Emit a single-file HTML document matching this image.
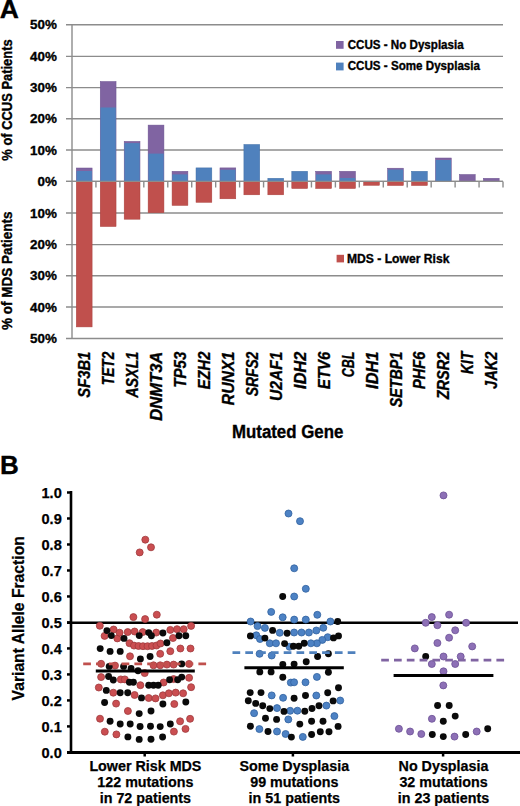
<!DOCTYPE html><html><head><meta charset="utf-8"><style>html,body{margin:0;padding:0;background:#fff;}svg{display:block;}</style></head><body><svg width="520" height="806" viewBox="0 0 520 806">
<rect width="520" height="806" fill="#fff"/>
<line x1="66" y1="24.8" x2="503" y2="24.8" stroke="#8c8c8c" stroke-width="1.4"/>
<line x1="66" y1="56.4" x2="503" y2="56.4" stroke="#8c8c8c" stroke-width="1.4"/>
<line x1="66" y1="87.6" x2="503" y2="87.6" stroke="#8c8c8c" stroke-width="1.4"/>
<line x1="66" y1="118.7" x2="503" y2="118.7" stroke="#8c8c8c" stroke-width="1.4"/>
<line x1="66" y1="150" x2="503" y2="150" stroke="#8c8c8c" stroke-width="1.4"/>
<line x1="66" y1="181.4" x2="503" y2="181.4" stroke="#8c8c8c" stroke-width="1.4"/>
<line x1="66" y1="213" x2="503" y2="213" stroke="#8c8c8c" stroke-width="1.4"/>
<line x1="66" y1="244.6" x2="503" y2="244.6" stroke="#8c8c8c" stroke-width="1.4"/>
<line x1="66" y1="275.8" x2="503" y2="275.8" stroke="#8c8c8c" stroke-width="1.4"/>
<line x1="66" y1="307" x2="503" y2="307" stroke="#8c8c8c" stroke-width="1.4"/>
<line x1="66" y1="338.5" x2="503" y2="338.5" stroke="#8c8c8c" stroke-width="1.4"/>
<text x="56.8" y="29.4" font-family="Liberation Sans, sans-serif" font-weight="bold" stroke="#000" stroke-width="0.35" font-size="13.4" text-anchor="end" fill="#000">50%</text>
<text x="56.8" y="61.0" font-family="Liberation Sans, sans-serif" font-weight="bold" stroke="#000" stroke-width="0.35" font-size="13.4" text-anchor="end" fill="#000">40%</text>
<text x="56.8" y="92.2" font-family="Liberation Sans, sans-serif" font-weight="bold" stroke="#000" stroke-width="0.35" font-size="13.4" text-anchor="end" fill="#000">30%</text>
<text x="56.8" y="123.3" font-family="Liberation Sans, sans-serif" font-weight="bold" stroke="#000" stroke-width="0.35" font-size="13.4" text-anchor="end" fill="#000">20%</text>
<text x="56.8" y="154.6" font-family="Liberation Sans, sans-serif" font-weight="bold" stroke="#000" stroke-width="0.35" font-size="13.4" text-anchor="end" fill="#000">10%</text>
<text x="56.8" y="186.0" font-family="Liberation Sans, sans-serif" font-weight="bold" stroke="#000" stroke-width="0.35" font-size="13.4" text-anchor="end" fill="#000">0%</text>
<text x="56.8" y="217.6" font-family="Liberation Sans, sans-serif" font-weight="bold" stroke="#000" stroke-width="0.35" font-size="13.4" text-anchor="end" fill="#000">10%</text>
<text x="56.8" y="249.2" font-family="Liberation Sans, sans-serif" font-weight="bold" stroke="#000" stroke-width="0.35" font-size="13.4" text-anchor="end" fill="#000">20%</text>
<text x="56.8" y="280.4" font-family="Liberation Sans, sans-serif" font-weight="bold" stroke="#000" stroke-width="0.35" font-size="13.4" text-anchor="end" fill="#000">30%</text>
<text x="56.8" y="311.6" font-family="Liberation Sans, sans-serif" font-weight="bold" stroke="#000" stroke-width="0.35" font-size="13.4" text-anchor="end" fill="#000">40%</text>
<text x="56.8" y="343.1" font-family="Liberation Sans, sans-serif" font-weight="bold" stroke="#000" stroke-width="0.35" font-size="13.4" text-anchor="end" fill="#000">50%</text>
<rect x="76.30" y="168" width="15.8" height="13.40" fill="#8064a2" stroke="#6c5290" stroke-width="0.5"/>
<rect x="76.55" y="171" width="15.3" height="10.15" fill="#4f81bd"/>
<rect x="76.30" y="181.4" width="15.8" height="145.50" fill="#c0504d" stroke="#a9403d" stroke-width="0.5"/>
<rect x="100.24" y="81.5" width="15.8" height="99.90" fill="#8064a2" stroke="#6c5290" stroke-width="0.5"/>
<rect x="100.49" y="107.5" width="15.3" height="73.65" fill="#4f81bd"/>
<rect x="100.24" y="181.4" width="15.8" height="45.10" fill="#c0504d" stroke="#a9403d" stroke-width="0.5"/>
<rect x="124.19" y="141.4" width="15.8" height="40.00" fill="#8064a2" stroke="#6c5290" stroke-width="0.5"/>
<rect x="124.44" y="143.1" width="15.3" height="38.05" fill="#4f81bd"/>
<rect x="124.19" y="181.4" width="15.8" height="37.80" fill="#c0504d" stroke="#a9403d" stroke-width="0.5"/>
<rect x="148.13" y="125.1" width="15.8" height="56.30" fill="#8064a2" stroke="#6c5290" stroke-width="0.5"/>
<rect x="148.38" y="153.6" width="15.3" height="27.55" fill="#4f81bd"/>
<rect x="148.13" y="181.4" width="15.8" height="31.30" fill="#c0504d" stroke="#a9403d" stroke-width="0.5"/>
<rect x="172.08" y="171.3" width="15.8" height="10.10" fill="#8064a2" stroke="#6c5290" stroke-width="0.5"/>
<rect x="172.33" y="174.4" width="15.3" height="6.75" fill="#4f81bd"/>
<rect x="172.08" y="181.4" width="15.8" height="24.00" fill="#c0504d" stroke="#a9403d" stroke-width="0.5"/>
<rect x="196.02" y="167.9" width="15.8" height="13.50" fill="#4f81bd" stroke="#416fa6" stroke-width="0.5"/>
<rect x="196.02" y="181.4" width="15.8" height="20.90" fill="#c0504d" stroke="#a9403d" stroke-width="0.5"/>
<rect x="219.97" y="167.9" width="15.8" height="13.50" fill="#8064a2" stroke="#6c5290" stroke-width="0.5"/>
<rect x="220.22" y="169.8" width="15.3" height="11.35" fill="#4f81bd"/>
<rect x="219.97" y="181.4" width="15.8" height="17.40" fill="#c0504d" stroke="#a9403d" stroke-width="0.5"/>
<rect x="243.91" y="144.5" width="15.8" height="36.90" fill="#4f81bd" stroke="#416fa6" stroke-width="0.5"/>
<rect x="243.91" y="181.4" width="15.8" height="13.40" fill="#c0504d" stroke="#a9403d" stroke-width="0.5"/>
<rect x="267.86" y="178.3" width="15.8" height="3.10" fill="#4f81bd" stroke="#416fa6" stroke-width="0.5"/>
<rect x="267.86" y="181.4" width="15.8" height="13.40" fill="#c0504d" stroke="#a9403d" stroke-width="0.5"/>
<rect x="291.80" y="171.3" width="15.8" height="10.10" fill="#4f81bd" stroke="#416fa6" stroke-width="0.5"/>
<rect x="291.80" y="181.4" width="15.8" height="7.10" fill="#c0504d" stroke="#a9403d" stroke-width="0.5"/>
<rect x="315.74" y="171.3" width="15.8" height="10.10" fill="#8064a2" stroke="#6c5290" stroke-width="0.5"/>
<rect x="315.99" y="174.4" width="15.3" height="6.75" fill="#4f81bd"/>
<rect x="315.74" y="181.4" width="15.8" height="7.10" fill="#c0504d" stroke="#a9403d" stroke-width="0.5"/>
<rect x="339.69" y="171.3" width="15.8" height="10.10" fill="#8064a2" stroke="#6c5290" stroke-width="0.5"/>
<rect x="339.94" y="178" width="15.3" height="3.15" fill="#4f81bd"/>
<rect x="339.69" y="181.4" width="15.8" height="7.10" fill="#c0504d" stroke="#a9403d" stroke-width="0.5"/>
<rect x="363.63" y="181.4" width="15.8" height="3.90" fill="#c0504d" stroke="#a9403d" stroke-width="0.5"/>
<rect x="387.58" y="168.2" width="15.8" height="13.20" fill="#8064a2" stroke="#6c5290" stroke-width="0.5"/>
<rect x="387.83" y="169.6" width="15.3" height="11.55" fill="#4f81bd"/>
<rect x="387.58" y="181.4" width="15.8" height="4.10" fill="#c0504d" stroke="#a9403d" stroke-width="0.5"/>
<rect x="411.52" y="171.3" width="15.8" height="10.10" fill="#4f81bd" stroke="#416fa6" stroke-width="0.5"/>
<rect x="411.52" y="181.4" width="15.8" height="4.10" fill="#c0504d" stroke="#a9403d" stroke-width="0.5"/>
<rect x="435.47" y="158" width="15.8" height="23.40" fill="#8064a2" stroke="#6c5290" stroke-width="0.5"/>
<rect x="435.72" y="160" width="15.3" height="21.15" fill="#4f81bd"/>
<rect x="459.41" y="174.5" width="15.8" height="6.90" fill="#8064a2" stroke="#6c5290" stroke-width="0.5"/>
<rect x="483.36" y="178.3" width="15.8" height="3.10" fill="#8064a2" stroke="#6c5290" stroke-width="0.5"/>
<line x1="72" y1="24.6" x2="72" y2="338.5" stroke="#8c8c8c" stroke-width="1.4"/>
<line x1="66" y1="181.4" x2="503" y2="181.4" stroke="#8c8c8c" stroke-width="1.4"/>
<line x1="95.94" y1="181.4" x2="95.94" y2="187.5" stroke="#8c8c8c" stroke-width="1.4"/>
<line x1="119.89" y1="181.4" x2="119.89" y2="187.5" stroke="#8c8c8c" stroke-width="1.4"/>
<line x1="143.83" y1="181.4" x2="143.83" y2="187.5" stroke="#8c8c8c" stroke-width="1.4"/>
<line x1="167.78" y1="181.4" x2="167.78" y2="187.5" stroke="#8c8c8c" stroke-width="1.4"/>
<line x1="191.72" y1="181.4" x2="191.72" y2="187.5" stroke="#8c8c8c" stroke-width="1.4"/>
<line x1="215.67" y1="181.4" x2="215.67" y2="187.5" stroke="#8c8c8c" stroke-width="1.4"/>
<line x1="239.61" y1="181.4" x2="239.61" y2="187.5" stroke="#8c8c8c" stroke-width="1.4"/>
<line x1="263.56" y1="181.4" x2="263.56" y2="187.5" stroke="#8c8c8c" stroke-width="1.4"/>
<line x1="287.50" y1="181.4" x2="287.50" y2="187.5" stroke="#8c8c8c" stroke-width="1.4"/>
<line x1="311.44" y1="181.4" x2="311.44" y2="187.5" stroke="#8c8c8c" stroke-width="1.4"/>
<line x1="335.39" y1="181.4" x2="335.39" y2="187.5" stroke="#8c8c8c" stroke-width="1.4"/>
<line x1="359.33" y1="181.4" x2="359.33" y2="187.5" stroke="#8c8c8c" stroke-width="1.4"/>
<line x1="383.28" y1="181.4" x2="383.28" y2="187.5" stroke="#8c8c8c" stroke-width="1.4"/>
<line x1="407.22" y1="181.4" x2="407.22" y2="187.5" stroke="#8c8c8c" stroke-width="1.4"/>
<line x1="431.17" y1="181.4" x2="431.17" y2="187.5" stroke="#8c8c8c" stroke-width="1.4"/>
<line x1="455.11" y1="181.4" x2="455.11" y2="187.5" stroke="#8c8c8c" stroke-width="1.4"/>
<line x1="479.06" y1="181.4" x2="479.06" y2="187.5" stroke="#8c8c8c" stroke-width="1.4"/>
<line x1="503.00" y1="181.4" x2="503.00" y2="187.5" stroke="#8c8c8c" stroke-width="1.4"/>
<text transform="translate(90.27,351.7) rotate(-90)" font-family="Liberation Sans, sans-serif" font-weight="bold" stroke="#000" stroke-width="0.35" font-style="italic" font-size="16.5" text-anchor="end" textLength="46" lengthAdjust="spacingAndGlyphs">SF3B1</text>
<text transform="translate(114.22,351.7) rotate(-90)" font-family="Liberation Sans, sans-serif" font-weight="bold" stroke="#000" stroke-width="0.35" font-style="italic" font-size="16.5" text-anchor="end" textLength="33.5" lengthAdjust="spacingAndGlyphs">TET2</text>
<text transform="translate(138.16,351.7) rotate(-90)" font-family="Liberation Sans, sans-serif" font-weight="bold" stroke="#000" stroke-width="0.35" font-style="italic" font-size="16.5" text-anchor="end" textLength="46" lengthAdjust="spacingAndGlyphs">ASXL1</text>
<text transform="translate(162.11,351.7) rotate(-90)" font-family="Liberation Sans, sans-serif" font-weight="bold" stroke="#000" stroke-width="0.35" font-style="italic" font-size="16.5" text-anchor="end" textLength="69" lengthAdjust="spacingAndGlyphs">DNMT3A</text>
<text transform="translate(186.05,351.7) rotate(-90)" font-family="Liberation Sans, sans-serif" font-weight="bold" stroke="#000" stroke-width="0.35" font-style="italic" font-size="16.5" text-anchor="end" textLength="36" lengthAdjust="spacingAndGlyphs">TP53</text>
<text transform="translate(209.99,351.7) rotate(-90)" font-family="Liberation Sans, sans-serif" font-weight="bold" stroke="#000" stroke-width="0.35" font-style="italic" font-size="16.5" text-anchor="end" textLength="37.5" lengthAdjust="spacingAndGlyphs">EZH2</text>
<text transform="translate(233.94,351.7) rotate(-90)" font-family="Liberation Sans, sans-serif" font-weight="bold" stroke="#000" stroke-width="0.35" font-style="italic" font-size="16.5" text-anchor="end" textLength="53.5" lengthAdjust="spacingAndGlyphs">RUNX1</text>
<text transform="translate(257.88,351.7) rotate(-90)" font-family="Liberation Sans, sans-serif" font-weight="bold" stroke="#000" stroke-width="0.35" font-style="italic" font-size="16.5" text-anchor="end" textLength="44.6" lengthAdjust="spacingAndGlyphs">SRFS2</text>
<text transform="translate(281.83,351.7) rotate(-90)" font-family="Liberation Sans, sans-serif" font-weight="bold" stroke="#000" stroke-width="0.35" font-style="italic" font-size="16.5" text-anchor="end" textLength="49.3" lengthAdjust="spacingAndGlyphs">U2AF1</text>
<text transform="translate(305.77,351.7) rotate(-90)" font-family="Liberation Sans, sans-serif" font-weight="bold" stroke="#000" stroke-width="0.35" font-style="italic" font-size="16.5" text-anchor="end" textLength="37.2" lengthAdjust="spacingAndGlyphs">IDH2</text>
<text transform="translate(329.72,351.7) rotate(-90)" font-family="Liberation Sans, sans-serif" font-weight="bold" stroke="#000" stroke-width="0.35" font-style="italic" font-size="16.5" text-anchor="end" textLength="37.2" lengthAdjust="spacingAndGlyphs">ETV6</text>
<text transform="translate(353.66,351.7) rotate(-90)" font-family="Liberation Sans, sans-serif" font-weight="bold" stroke="#000" stroke-width="0.35" font-style="italic" font-size="16.5" text-anchor="end" textLength="25.6" lengthAdjust="spacingAndGlyphs">CBL</text>
<text transform="translate(377.61,351.7) rotate(-90)" font-family="Liberation Sans, sans-serif" font-weight="bold" stroke="#000" stroke-width="0.35" font-style="italic" font-size="16.5" text-anchor="end" textLength="37.2" lengthAdjust="spacingAndGlyphs">IDH1</text>
<text transform="translate(401.55,351.7) rotate(-90)" font-family="Liberation Sans, sans-serif" font-weight="bold" stroke="#000" stroke-width="0.35" font-style="italic" font-size="16.5" text-anchor="end" textLength="55.6" lengthAdjust="spacingAndGlyphs">SETBP1</text>
<text transform="translate(425.49,351.7) rotate(-90)" font-family="Liberation Sans, sans-serif" font-weight="bold" stroke="#000" stroke-width="0.35" font-style="italic" font-size="16.5" text-anchor="end" textLength="37.2" lengthAdjust="spacingAndGlyphs">PHF6</text>
<text transform="translate(449.44,351.7) rotate(-90)" font-family="Liberation Sans, sans-serif" font-weight="bold" stroke="#000" stroke-width="0.35" font-style="italic" font-size="16.5" text-anchor="end" textLength="47.6" lengthAdjust="spacingAndGlyphs">ZRSR2</text>
<text transform="translate(473.38,351.7) rotate(-90)" font-family="Liberation Sans, sans-serif" font-weight="bold" stroke="#000" stroke-width="0.35" font-style="italic" font-size="16.5" text-anchor="end" textLength="22.2" lengthAdjust="spacingAndGlyphs">KIT</text>
<text transform="translate(497.33,351.7) rotate(-90)" font-family="Liberation Sans, sans-serif" font-weight="bold" stroke="#000" stroke-width="0.35" font-style="italic" font-size="16.5" text-anchor="end" textLength="37.2" lengthAdjust="spacingAndGlyphs">JAK2</text>
<text x="232" y="437.9" font-family="Liberation Sans, sans-serif" font-weight="bold" stroke="#000" stroke-width="0.35" font-size="17.5" textLength="111.3" lengthAdjust="spacingAndGlyphs">Mutated Gene</text>
<text transform="translate(11.8,100) rotate(-90)" font-family="Liberation Sans, sans-serif" font-weight="bold" stroke="#000" stroke-width="0.35" font-size="14" text-anchor="middle" textLength="121.3" lengthAdjust="spacingAndGlyphs">% of CCUS Patients</text>
<text transform="translate(11.8,270.8) rotate(-90)" font-family="Liberation Sans, sans-serif" font-weight="bold" stroke="#000" stroke-width="0.35" font-size="14" text-anchor="middle" textLength="118.4" lengthAdjust="spacingAndGlyphs">% of MDS Patients</text>
<rect x="336" y="41" width="7.6" height="7.8" fill="#8064a2"/>
<text x="347.7" y="49.2" font-family="Liberation Sans, sans-serif" font-weight="bold" stroke="#000" stroke-width="0.35" font-size="12.2" textLength="116" lengthAdjust="spacingAndGlyphs">CCUS - No Dysplasia</text>
<rect x="336" y="62.6" width="7.6" height="7.8" fill="#4f81bd"/>
<text x="347.7" y="70.4" font-family="Liberation Sans, sans-serif" font-weight="bold" stroke="#000" stroke-width="0.35" font-size="12.2" textLength="132.3" lengthAdjust="spacingAndGlyphs">CCUS - Some Dysplasia</text>
<rect x="336.6" y="254.8" width="7.4" height="7.6" fill="#c0504d"/>
<text x="347" y="262.9" font-family="Liberation Sans, sans-serif" font-weight="bold" stroke="#000" stroke-width="0.35" font-size="12.2" textLength="102.4" lengthAdjust="spacingAndGlyphs">MDS - Lower Risk</text>
<text x="-0.3" y="17.6" font-family="Liberation Sans, sans-serif" font-weight="bold" stroke="#000" stroke-width="0.35" font-size="26.5">A</text>
<text x="0" y="473.8" font-family="Liberation Sans, sans-serif" font-weight="bold" stroke="#000" stroke-width="0.35" font-size="26">B</text>
<line x1="71" y1="491" x2="71" y2="754" stroke="#000" stroke-width="2.6"/>
<line x1="67" y1="752.4" x2="520" y2="752.4" stroke="#000" stroke-width="3"/>
<line x1="67" y1="752.40" x2="71" y2="752.40" stroke="#000" stroke-width="2.5"/>
<text x="61.8" y="757.70" font-family="Liberation Sans, sans-serif" font-weight="bold" stroke="#000" stroke-width="0.25" font-size="14.6" text-anchor="end">0.0</text>
<line x1="67" y1="726.41" x2="71" y2="726.41" stroke="#000" stroke-width="2.5"/>
<text x="61.8" y="731.71" font-family="Liberation Sans, sans-serif" font-weight="bold" stroke="#000" stroke-width="0.25" font-size="14.6" text-anchor="end">0.1</text>
<line x1="67" y1="700.42" x2="71" y2="700.42" stroke="#000" stroke-width="2.5"/>
<text x="61.8" y="705.72" font-family="Liberation Sans, sans-serif" font-weight="bold" stroke="#000" stroke-width="0.25" font-size="14.6" text-anchor="end">0.2</text>
<line x1="67" y1="674.43" x2="71" y2="674.43" stroke="#000" stroke-width="2.5"/>
<text x="61.8" y="679.73" font-family="Liberation Sans, sans-serif" font-weight="bold" stroke="#000" stroke-width="0.25" font-size="14.6" text-anchor="end">0.3</text>
<line x1="67" y1="648.44" x2="71" y2="648.44" stroke="#000" stroke-width="2.5"/>
<text x="61.8" y="653.74" font-family="Liberation Sans, sans-serif" font-weight="bold" stroke="#000" stroke-width="0.25" font-size="14.6" text-anchor="end">0.4</text>
<line x1="67" y1="622.45" x2="71" y2="622.45" stroke="#000" stroke-width="2.5"/>
<text x="61.8" y="627.75" font-family="Liberation Sans, sans-serif" font-weight="bold" stroke="#000" stroke-width="0.25" font-size="14.6" text-anchor="end">0.5</text>
<line x1="67" y1="596.46" x2="71" y2="596.46" stroke="#000" stroke-width="2.5"/>
<text x="61.8" y="601.76" font-family="Liberation Sans, sans-serif" font-weight="bold" stroke="#000" stroke-width="0.25" font-size="14.6" text-anchor="end">0.6</text>
<line x1="67" y1="570.47" x2="71" y2="570.47" stroke="#000" stroke-width="2.5"/>
<text x="61.8" y="575.77" font-family="Liberation Sans, sans-serif" font-weight="bold" stroke="#000" stroke-width="0.25" font-size="14.6" text-anchor="end">0.7</text>
<line x1="67" y1="544.48" x2="71" y2="544.48" stroke="#000" stroke-width="2.5"/>
<text x="61.8" y="549.78" font-family="Liberation Sans, sans-serif" font-weight="bold" stroke="#000" stroke-width="0.25" font-size="14.6" text-anchor="end">0.8</text>
<line x1="67" y1="518.49" x2="71" y2="518.49" stroke="#000" stroke-width="2.5"/>
<text x="61.8" y="523.79" font-family="Liberation Sans, sans-serif" font-weight="bold" stroke="#000" stroke-width="0.25" font-size="14.6" text-anchor="end">0.9</text>
<line x1="67" y1="492.50" x2="71" y2="492.50" stroke="#000" stroke-width="2.5"/>
<text x="61.8" y="497.80" font-family="Liberation Sans, sans-serif" font-weight="bold" stroke="#000" stroke-width="0.25" font-size="14.6" text-anchor="end">1.0</text>
<line x1="144.7" y1="752.4" x2="144.7" y2="756.5" stroke="#000" stroke-width="2.5"/>
<line x1="292.9" y1="752.4" x2="292.9" y2="756.5" stroke="#000" stroke-width="2.5"/>
<line x1="443.1" y1="752.4" x2="443.1" y2="756.5" stroke="#000" stroke-width="2.5"/>
<text x="145.4" y="770.7" font-family="Liberation Sans, sans-serif" font-weight="bold" stroke="#000" stroke-width="0.25" font-size="14.3" text-anchor="middle">Lower Risk MDS</text>
<text x="145.4" y="787" font-family="Liberation Sans, sans-serif" font-weight="bold" stroke="#000" stroke-width="0.25" font-size="14.3" text-anchor="middle">122 mutations</text>
<text x="145.4" y="803.4" font-family="Liberation Sans, sans-serif" font-weight="bold" stroke="#000" stroke-width="0.25" font-size="14.3" text-anchor="middle">in 72 patients</text>
<text x="294.3" y="770.7" font-family="Liberation Sans, sans-serif" font-weight="bold" stroke="#000" stroke-width="0.25" font-size="14.3" text-anchor="middle">Some Dysplasia</text>
<text x="294.3" y="787" font-family="Liberation Sans, sans-serif" font-weight="bold" stroke="#000" stroke-width="0.25" font-size="14.3" text-anchor="middle">99 mutations</text>
<text x="294.3" y="803.4" font-family="Liberation Sans, sans-serif" font-weight="bold" stroke="#000" stroke-width="0.25" font-size="14.3" text-anchor="middle">in 51 patients</text>
<text x="443.5" y="770.7" font-family="Liberation Sans, sans-serif" font-weight="bold" stroke="#000" stroke-width="0.25" font-size="14.3" text-anchor="middle">No Dysplasia</text>
<text x="443.5" y="787" font-family="Liberation Sans, sans-serif" font-weight="bold" stroke="#000" stroke-width="0.25" font-size="14.3" text-anchor="middle">32 mutations</text>
<text x="443.5" y="803.4" font-family="Liberation Sans, sans-serif" font-weight="bold" stroke="#000" stroke-width="0.25" font-size="14.3" text-anchor="middle">in 23 patients</text>
<text transform="translate(24.2,618.3) rotate(-90)" font-family="Liberation Sans, sans-serif" font-weight="bold" stroke="#000" stroke-width="0.25" font-size="15.7" text-anchor="middle">Variant Allele Fraction</text>
<line x1="67" y1="622.75" x2="518" y2="622.75" stroke="#000" stroke-width="2.7"/>
<circle cx="145.3" cy="539.7" r="3.5" fill="#ca4e51" stroke="#a03b3e" stroke-width="0.8"/>
<circle cx="151.0" cy="547.3" r="3.5" fill="#ca4e51" stroke="#a03b3e" stroke-width="0.8"/>
<circle cx="139.7" cy="552.4" r="3.5" fill="#ca4e51" stroke="#a03b3e" stroke-width="0.8"/>
<circle cx="133.4" cy="617.1" r="3.5" fill="#ca4e51" stroke="#a03b3e" stroke-width="0.8"/>
<circle cx="145.1" cy="619.1" r="3.5" fill="#ca4e51" stroke="#a03b3e" stroke-width="0.8"/>
<circle cx="156.8" cy="614.7" r="3.5" fill="#ca4e51" stroke="#a03b3e" stroke-width="0.8"/>
<circle cx="99.8" cy="625.8" r="3.5" fill="#ca4e51" stroke="#a03b3e" stroke-width="0.8"/>
<circle cx="113.6" cy="629.5" r="3.5" fill="#ca4e51" stroke="#a03b3e" stroke-width="0.8"/>
<circle cx="104.6" cy="635.9" r="3.5" fill="#ca4e51" stroke="#a03b3e" stroke-width="0.8"/>
<circle cx="117.3" cy="638.4" r="3.5" fill="#ca4e51" stroke="#a03b3e" stroke-width="0.8"/>
<circle cx="119.6" cy="632.7" r="3.5" fill="#ca4e51" stroke="#a03b3e" stroke-width="0.8"/>
<circle cx="127.7" cy="632.1" r="3.5" fill="#ca4e51" stroke="#a03b3e" stroke-width="0.8"/>
<circle cx="134.6" cy="631.5" r="3.5" fill="#ca4e51" stroke="#a03b3e" stroke-width="0.8"/>
<circle cx="142.7" cy="632.1" r="3.5" fill="#ca4e51" stroke="#a03b3e" stroke-width="0.8"/>
<circle cx="191.1" cy="625.9" r="3.5" fill="#ca4e51" stroke="#a03b3e" stroke-width="0.8"/>
<circle cx="156.2" cy="632.6" r="3.5" fill="#ca4e51" stroke="#a03b3e" stroke-width="0.8"/>
<circle cx="170.3" cy="629.9" r="3.5" fill="#ca4e51" stroke="#a03b3e" stroke-width="0.8"/>
<circle cx="177.0" cy="629.2" r="3.5" fill="#ca4e51" stroke="#a03b3e" stroke-width="0.8"/>
<circle cx="183.7" cy="629.2" r="3.5" fill="#ca4e51" stroke="#a03b3e" stroke-width="0.8"/>
<circle cx="173.0" cy="638.0" r="3.5" fill="#ca4e51" stroke="#a03b3e" stroke-width="0.8"/>
<circle cx="129.5" cy="643.2" r="3.5" fill="#ca4e51" stroke="#a03b3e" stroke-width="0.8"/>
<circle cx="134.0" cy="645.6" r="3.5" fill="#ca4e51" stroke="#a03b3e" stroke-width="0.8"/>
<circle cx="138.5" cy="646.0" r="3.5" fill="#ca4e51" stroke="#a03b3e" stroke-width="0.8"/>
<circle cx="143.0" cy="646.2" r="3.5" fill="#ca4e51" stroke="#a03b3e" stroke-width="0.8"/>
<circle cx="147.5" cy="646.2" r="3.5" fill="#ca4e51" stroke="#a03b3e" stroke-width="0.8"/>
<circle cx="152.0" cy="646.0" r="3.5" fill="#ca4e51" stroke="#a03b3e" stroke-width="0.8"/>
<circle cx="156.5" cy="645.5" r="3.5" fill="#ca4e51" stroke="#a03b3e" stroke-width="0.8"/>
<circle cx="160.5" cy="643.5" r="3.5" fill="#ca4e51" stroke="#a03b3e" stroke-width="0.8"/>
<circle cx="130.0" cy="656.3" r="3.5" fill="#ca4e51" stroke="#a03b3e" stroke-width="0.8"/>
<circle cx="101.1" cy="663.8" r="3.5" fill="#ca4e51" stroke="#a03b3e" stroke-width="0.8"/>
<circle cx="115.0" cy="665.6" r="3.5" fill="#ca4e51" stroke="#a03b3e" stroke-width="0.8"/>
<circle cx="170.3" cy="651.2" r="3.5" fill="#ca4e51" stroke="#a03b3e" stroke-width="0.8"/>
<circle cx="180.4" cy="648.5" r="3.5" fill="#ca4e51" stroke="#a03b3e" stroke-width="0.8"/>
<circle cx="190.5" cy="648.5" r="3.5" fill="#ca4e51" stroke="#a03b3e" stroke-width="0.8"/>
<circle cx="160.2" cy="653.8" r="3.5" fill="#ca4e51" stroke="#a03b3e" stroke-width="0.8"/>
<circle cx="153.5" cy="665.3" r="3.5" fill="#ca4e51" stroke="#a03b3e" stroke-width="0.8"/>
<circle cx="160.2" cy="665.3" r="3.5" fill="#ca4e51" stroke="#a03b3e" stroke-width="0.8"/>
<circle cx="166.9" cy="664.6" r="3.5" fill="#ca4e51" stroke="#a03b3e" stroke-width="0.8"/>
<circle cx="173.6" cy="664.6" r="3.5" fill="#ca4e51" stroke="#a03b3e" stroke-width="0.8"/>
<circle cx="189.1" cy="663.9" r="3.5" fill="#ca4e51" stroke="#a03b3e" stroke-width="0.8"/>
<circle cx="101.1" cy="677.1" r="3.5" fill="#ca4e51" stroke="#a03b3e" stroke-width="0.8"/>
<circle cx="120.8" cy="679.4" r="3.5" fill="#ca4e51" stroke="#a03b3e" stroke-width="0.8"/>
<circle cx="124.8" cy="679.4" r="3.5" fill="#ca4e51" stroke="#a03b3e" stroke-width="0.8"/>
<circle cx="140.4" cy="685.2" r="3.5" fill="#ca4e51" stroke="#a03b3e" stroke-width="0.8"/>
<circle cx="98.8" cy="687.5" r="3.5" fill="#ca4e51" stroke="#a03b3e" stroke-width="0.8"/>
<circle cx="113.3" cy="692.7" r="3.5" fill="#ca4e51" stroke="#a03b3e" stroke-width="0.8"/>
<circle cx="134.6" cy="695.0" r="3.5" fill="#ca4e51" stroke="#a03b3e" stroke-width="0.8"/>
<circle cx="116.1" cy="703.6" r="3.5" fill="#ca4e51" stroke="#a03b3e" stroke-width="0.8"/>
<circle cx="144.7" cy="673.1" r="3.5" fill="#ca4e51" stroke="#a03b3e" stroke-width="0.8"/>
<circle cx="189.1" cy="677.8" r="3.5" fill="#ca4e51" stroke="#a03b3e" stroke-width="0.8"/>
<circle cx="173.6" cy="679.1" r="3.5" fill="#ca4e51" stroke="#a03b3e" stroke-width="0.8"/>
<circle cx="163.6" cy="682.5" r="3.5" fill="#ca4e51" stroke="#a03b3e" stroke-width="0.8"/>
<circle cx="191.1" cy="687.2" r="3.5" fill="#ca4e51" stroke="#a03b3e" stroke-width="0.8"/>
<circle cx="162.9" cy="695.3" r="3.5" fill="#ca4e51" stroke="#a03b3e" stroke-width="0.8"/>
<circle cx="168.9" cy="693.3" r="3.5" fill="#ca4e51" stroke="#a03b3e" stroke-width="0.8"/>
<circle cx="175.7" cy="692.6" r="3.5" fill="#ca4e51" stroke="#a03b3e" stroke-width="0.8"/>
<circle cx="183.1" cy="693.3" r="3.5" fill="#ca4e51" stroke="#a03b3e" stroke-width="0.8"/>
<circle cx="148.7" cy="698.0" r="3.5" fill="#ca4e51" stroke="#a03b3e" stroke-width="0.8"/>
<circle cx="155.5" cy="698.4" r="3.5" fill="#ca4e51" stroke="#a03b3e" stroke-width="0.8"/>
<circle cx="174.3" cy="704.0" r="3.5" fill="#ca4e51" stroke="#a03b3e" stroke-width="0.8"/>
<circle cx="127.9" cy="711.0" r="3.5" fill="#ca4e51" stroke="#a03b3e" stroke-width="0.8"/>
<circle cx="100.0" cy="718.7" r="3.5" fill="#ca4e51" stroke="#a03b3e" stroke-width="0.8"/>
<circle cx="104.8" cy="731.7" r="3.5" fill="#ca4e51" stroke="#a03b3e" stroke-width="0.8"/>
<circle cx="116.4" cy="734.4" r="3.5" fill="#ca4e51" stroke="#a03b3e" stroke-width="0.8"/>
<circle cx="180.1" cy="721.3" r="3.5" fill="#ca4e51" stroke="#a03b3e" stroke-width="0.8"/>
<circle cx="190.1" cy="718.8" r="3.5" fill="#ca4e51" stroke="#a03b3e" stroke-width="0.8"/>
<circle cx="173.9" cy="731.6" r="3.5" fill="#ca4e51" stroke="#a03b3e" stroke-width="0.8"/>
<circle cx="185.5" cy="728.9" r="3.5" fill="#ca4e51" stroke="#a03b3e" stroke-width="0.8"/>
<circle cx="288.5" cy="513.5" r="3.5" fill="#4d82c4" stroke="#31629f" stroke-width="0.8"/>
<circle cx="300.0" cy="521.2" r="3.5" fill="#4d82c4" stroke="#31629f" stroke-width="0.8"/>
<circle cx="294.2" cy="568.3" r="3.5" fill="#4d82c4" stroke="#31629f" stroke-width="0.8"/>
<circle cx="305.8" cy="588.8" r="3.5" fill="#4d82c4" stroke="#31629f" stroke-width="0.8"/>
<circle cx="294.2" cy="596.5" r="3.5" fill="#4d82c4" stroke="#31629f" stroke-width="0.8"/>
<circle cx="271.2" cy="611.9" r="3.5" fill="#4d82c4" stroke="#31629f" stroke-width="0.8"/>
<circle cx="282.7" cy="617.3" r="3.5" fill="#4d82c4" stroke="#31629f" stroke-width="0.8"/>
<circle cx="294.2" cy="619.6" r="3.5" fill="#4d82c4" stroke="#31629f" stroke-width="0.8"/>
<circle cx="305.8" cy="619.6" r="3.5" fill="#4d82c4" stroke="#31629f" stroke-width="0.8"/>
<circle cx="317.3" cy="614.8" r="3.5" fill="#4d82c4" stroke="#31629f" stroke-width="0.8"/>
<circle cx="250.6" cy="621.5" r="3.5" fill="#4d82c4" stroke="#31629f" stroke-width="0.8"/>
<circle cx="330.4" cy="621.5" r="3.5" fill="#4d82c4" stroke="#31629f" stroke-width="0.8"/>
<circle cx="257.5" cy="626.1" r="3.5" fill="#4d82c4" stroke="#31629f" stroke-width="0.8"/>
<circle cx="264.9" cy="627.9" r="3.5" fill="#4d82c4" stroke="#31629f" stroke-width="0.8"/>
<circle cx="279.7" cy="632.8" r="3.5" fill="#4d82c4" stroke="#31629f" stroke-width="0.8"/>
<circle cx="256.3" cy="635.3" r="3.5" fill="#4d82c4" stroke="#31629f" stroke-width="0.8"/>
<circle cx="260.0" cy="639.0" r="3.5" fill="#4d82c4" stroke="#31629f" stroke-width="0.8"/>
<circle cx="269.8" cy="643.3" r="3.5" fill="#4d82c4" stroke="#31629f" stroke-width="0.8"/>
<circle cx="276.0" cy="643.3" r="3.5" fill="#4d82c4" stroke="#31629f" stroke-width="0.8"/>
<circle cx="289.5" cy="646.8" r="3.5" fill="#4d82c4" stroke="#31629f" stroke-width="0.8"/>
<circle cx="259.6" cy="653.8" r="3.5" fill="#4d82c4" stroke="#31629f" stroke-width="0.8"/>
<circle cx="294.1" cy="632.5" r="3.5" fill="#4d82c4" stroke="#31629f" stroke-width="0.8"/>
<circle cx="301.5" cy="632.5" r="3.5" fill="#4d82c4" stroke="#31629f" stroke-width="0.8"/>
<circle cx="308.9" cy="632.5" r="3.5" fill="#4d82c4" stroke="#31629f" stroke-width="0.8"/>
<circle cx="316.3" cy="630.5" r="3.5" fill="#4d82c4" stroke="#31629f" stroke-width="0.8"/>
<circle cx="323.3" cy="627.8" r="3.5" fill="#4d82c4" stroke="#31629f" stroke-width="0.8"/>
<circle cx="327.7" cy="637.2" r="3.5" fill="#4d82c4" stroke="#31629f" stroke-width="0.8"/>
<circle cx="322.3" cy="639.9" r="3.5" fill="#4d82c4" stroke="#31629f" stroke-width="0.8"/>
<circle cx="316.9" cy="643.3" r="3.5" fill="#4d82c4" stroke="#31629f" stroke-width="0.8"/>
<circle cx="310.9" cy="643.3" r="3.5" fill="#4d82c4" stroke="#31629f" stroke-width="0.8"/>
<circle cx="271.7" cy="655.5" r="3.5" fill="#4d82c4" stroke="#31629f" stroke-width="0.8"/>
<circle cx="290.8" cy="682.6" r="3.5" fill="#4d82c4" stroke="#31629f" stroke-width="0.8"/>
<circle cx="316.9" cy="676.9" r="3.5" fill="#4d82c4" stroke="#31629f" stroke-width="0.8"/>
<circle cx="294.1" cy="682.3" r="3.5" fill="#4d82c4" stroke="#31629f" stroke-width="0.8"/>
<circle cx="305.5" cy="682.3" r="3.5" fill="#4d82c4" stroke="#31629f" stroke-width="0.8"/>
<circle cx="271.7" cy="695.4" r="3.5" fill="#4d82c4" stroke="#31629f" stroke-width="0.8"/>
<circle cx="283.1" cy="697.8" r="3.5" fill="#4d82c4" stroke="#31629f" stroke-width="0.8"/>
<circle cx="277.0" cy="708.1" r="3.5" fill="#4d82c4" stroke="#31629f" stroke-width="0.8"/>
<circle cx="290.2" cy="710.8" r="3.5" fill="#4d82c4" stroke="#31629f" stroke-width="0.8"/>
<circle cx="254.1" cy="713.2" r="3.5" fill="#4d82c4" stroke="#31629f" stroke-width="0.8"/>
<circle cx="288.3" cy="719.4" r="3.5" fill="#4d82c4" stroke="#31629f" stroke-width="0.8"/>
<circle cx="316.3" cy="695.5" r="3.5" fill="#4d82c4" stroke="#31629f" stroke-width="0.8"/>
<circle cx="340.2" cy="700.5" r="3.5" fill="#4d82c4" stroke="#31629f" stroke-width="0.8"/>
<circle cx="326.4" cy="705.6" r="3.5" fill="#4d82c4" stroke="#31629f" stroke-width="0.8"/>
<circle cx="297.4" cy="710.7" r="3.5" fill="#4d82c4" stroke="#31629f" stroke-width="0.8"/>
<circle cx="334.4" cy="716.1" r="3.5" fill="#4d82c4" stroke="#31629f" stroke-width="0.8"/>
<circle cx="259.4" cy="729.1" r="3.5" fill="#4d82c4" stroke="#31629f" stroke-width="0.8"/>
<circle cx="277.0" cy="731.5" r="3.5" fill="#4d82c4" stroke="#31629f" stroke-width="0.8"/>
<circle cx="285.6" cy="734.0" r="3.5" fill="#4d82c4" stroke="#31629f" stroke-width="0.8"/>
<circle cx="302.8" cy="736.9" r="3.5" fill="#4d82c4" stroke="#31629f" stroke-width="0.8"/>
<circle cx="443.5" cy="495.4" r="3.5" fill="#8d70b6" stroke="#6c5196" stroke-width="0.8"/>
<circle cx="431.8" cy="617.1" r="3.5" fill="#8d70b6" stroke="#6c5196" stroke-width="0.8"/>
<circle cx="449.1" cy="614.7" r="3.5" fill="#8d70b6" stroke="#6c5196" stroke-width="0.8"/>
<circle cx="425.7" cy="622.8" r="3.5" fill="#8d70b6" stroke="#6c5196" stroke-width="0.8"/>
<circle cx="437.4" cy="625.2" r="3.5" fill="#8d70b6" stroke="#6c5196" stroke-width="0.8"/>
<circle cx="466.1" cy="622.8" r="3.5" fill="#8d70b6" stroke="#6c5196" stroke-width="0.8"/>
<circle cx="455.2" cy="630.3" r="3.5" fill="#8d70b6" stroke="#6c5196" stroke-width="0.8"/>
<circle cx="449.1" cy="637.7" r="3.5" fill="#8d70b6" stroke="#6c5196" stroke-width="0.8"/>
<circle cx="437.4" cy="643.0" r="3.5" fill="#8d70b6" stroke="#6c5196" stroke-width="0.8"/>
<circle cx="414.8" cy="648.4" r="3.5" fill="#8d70b6" stroke="#6c5196" stroke-width="0.8"/>
<circle cx="472.2" cy="646.4" r="3.5" fill="#8d70b6" stroke="#6c5196" stroke-width="0.8"/>
<circle cx="443.5" cy="656.5" r="3.5" fill="#8d70b6" stroke="#6c5196" stroke-width="0.8"/>
<circle cx="460.7" cy="656.5" r="3.5" fill="#8d70b6" stroke="#6c5196" stroke-width="0.8"/>
<circle cx="431.8" cy="664.0" r="3.5" fill="#8d70b6" stroke="#6c5196" stroke-width="0.8"/>
<circle cx="455.2" cy="664.0" r="3.5" fill="#8d70b6" stroke="#6c5196" stroke-width="0.8"/>
<circle cx="443.5" cy="671.3" r="3.5" fill="#8d70b6" stroke="#6c5196" stroke-width="0.8"/>
<circle cx="443.3" cy="685.4" r="3.5" fill="#8d70b6" stroke="#6c5196" stroke-width="0.8"/>
<circle cx="431.9" cy="718.8" r="3.5" fill="#8d70b6" stroke="#6c5196" stroke-width="0.8"/>
<circle cx="398.9" cy="728.8" r="3.5" fill="#8d70b6" stroke="#6c5196" stroke-width="0.8"/>
<circle cx="410.1" cy="731.5" r="3.5" fill="#8d70b6" stroke="#6c5196" stroke-width="0.8"/>
<circle cx="421.3" cy="734.0" r="3.5" fill="#8d70b6" stroke="#6c5196" stroke-width="0.8"/>
<circle cx="454.5" cy="736.6" r="3.5" fill="#8d70b6" stroke="#6c5196" stroke-width="0.8"/>
<circle cx="476.7" cy="731.5" r="3.5" fill="#8d70b6" stroke="#6c5196" stroke-width="0.8"/>
<circle cx="106.9" cy="630.6" r="3.45" fill="#0a0a0a"/>
<circle cx="111.3" cy="635.6" r="3.45" fill="#0a0a0a"/>
<circle cx="124.0" cy="638.4" r="3.45" fill="#0a0a0a"/>
<circle cx="139.2" cy="635.6" r="3.45" fill="#0a0a0a"/>
<circle cx="148.7" cy="632.6" r="3.45" fill="#0a0a0a"/>
<circle cx="151.4" cy="635.7" r="3.45" fill="#0a0a0a"/>
<circle cx="162.9" cy="633.0" r="3.45" fill="#0a0a0a"/>
<circle cx="179.0" cy="635.7" r="3.45" fill="#0a0a0a"/>
<circle cx="185.8" cy="635.7" r="3.45" fill="#0a0a0a"/>
<circle cx="166.9" cy="642.7" r="3.45" fill="#0a0a0a"/>
<circle cx="100.2" cy="648.6" r="3.45" fill="#0a0a0a"/>
<circle cx="110.1" cy="651.4" r="3.45" fill="#0a0a0a"/>
<circle cx="120.2" cy="651.4" r="3.45" fill="#0a0a0a"/>
<circle cx="140.4" cy="659.0" r="3.45" fill="#0a0a0a"/>
<circle cx="109.2" cy="666.4" r="3.45" fill="#0a0a0a"/>
<circle cx="123.6" cy="666.4" r="3.45" fill="#0a0a0a"/>
<circle cx="131.1" cy="668.4" r="3.45" fill="#0a0a0a"/>
<circle cx="138.0" cy="670.8" r="3.45" fill="#0a0a0a"/>
<circle cx="150.1" cy="656.5" r="3.45" fill="#0a0a0a"/>
<circle cx="181.7" cy="663.9" r="3.45" fill="#0a0a0a"/>
<circle cx="108.6" cy="676.5" r="3.45" fill="#0a0a0a"/>
<circle cx="113.3" cy="680.0" r="3.45" fill="#0a0a0a"/>
<circle cx="129.4" cy="682.3" r="3.45" fill="#0a0a0a"/>
<circle cx="133.4" cy="682.3" r="3.45" fill="#0a0a0a"/>
<circle cx="106.3" cy="690.4" r="3.45" fill="#0a0a0a"/>
<circle cx="120.2" cy="692.7" r="3.45" fill="#0a0a0a"/>
<circle cx="127.7" cy="692.7" r="3.45" fill="#0a0a0a"/>
<circle cx="141.5" cy="697.9" r="3.45" fill="#0a0a0a"/>
<circle cx="104.6" cy="702.5" r="3.45" fill="#0a0a0a"/>
<circle cx="181.7" cy="677.1" r="3.45" fill="#0a0a0a"/>
<circle cx="169.6" cy="679.8" r="3.45" fill="#0a0a0a"/>
<circle cx="177.7" cy="679.8" r="3.45" fill="#0a0a0a"/>
<circle cx="148.7" cy="685.2" r="3.45" fill="#0a0a0a"/>
<circle cx="153.5" cy="685.2" r="3.45" fill="#0a0a0a"/>
<circle cx="158.2" cy="685.2" r="3.45" fill="#0a0a0a"/>
<circle cx="162.9" cy="704.0" r="3.45" fill="#0a0a0a"/>
<circle cx="185.8" cy="702.0" r="3.45" fill="#0a0a0a"/>
<circle cx="139.2" cy="713.6" r="3.45" fill="#0a0a0a"/>
<circle cx="110.1" cy="721.3" r="3.45" fill="#0a0a0a"/>
<circle cx="120.2" cy="724.0" r="3.45" fill="#0a0a0a"/>
<circle cx="130.2" cy="724.0" r="3.45" fill="#0a0a0a"/>
<circle cx="140.1" cy="726.5" r="3.45" fill="#0a0a0a"/>
<circle cx="127.9" cy="736.9" r="3.45" fill="#0a0a0a"/>
<circle cx="139.2" cy="739.4" r="3.45" fill="#0a0a0a"/>
<circle cx="151.0" cy="711.0" r="3.45" fill="#0a0a0a"/>
<circle cx="150.5" cy="726.2" r="3.45" fill="#0a0a0a"/>
<circle cx="160.2" cy="726.6" r="3.45" fill="#0a0a0a"/>
<circle cx="170.3" cy="724.0" r="3.45" fill="#0a0a0a"/>
<circle cx="151.0" cy="739.3" r="3.45" fill="#0a0a0a"/>
<circle cx="162.6" cy="737.0" r="3.45" fill="#0a0a0a"/>
<circle cx="282.7" cy="596.5" r="3.45" fill="#0a0a0a"/>
<circle cx="337.7" cy="621.5" r="3.45" fill="#0a0a0a"/>
<circle cx="272.6" cy="630.4" r="3.45" fill="#0a0a0a"/>
<circle cx="287.1" cy="633.2" r="3.45" fill="#0a0a0a"/>
<circle cx="250.4" cy="635.9" r="3.45" fill="#0a0a0a"/>
<circle cx="264.9" cy="638.1" r="3.45" fill="#0a0a0a"/>
<circle cx="284.6" cy="643.6" r="3.45" fill="#0a0a0a"/>
<circle cx="338.5" cy="635.9" r="3.45" fill="#0a0a0a"/>
<circle cx="333.5" cy="637.9" r="3.45" fill="#0a0a0a"/>
<circle cx="304.2" cy="643.3" r="3.45" fill="#0a0a0a"/>
<circle cx="298.8" cy="646.2" r="3.45" fill="#0a0a0a"/>
<circle cx="293.4" cy="646.2" r="3.45" fill="#0a0a0a"/>
<circle cx="317.6" cy="656.5" r="3.45" fill="#0a0a0a"/>
<circle cx="328.4" cy="653.8" r="3.45" fill="#0a0a0a"/>
<circle cx="282.8" cy="664.5" r="3.45" fill="#0a0a0a"/>
<circle cx="259.8" cy="671.9" r="3.45" fill="#0a0a0a"/>
<circle cx="271.1" cy="671.9" r="3.45" fill="#0a0a0a"/>
<circle cx="282.8" cy="677.3" r="3.45" fill="#0a0a0a"/>
<circle cx="306.2" cy="661.8" r="3.45" fill="#0a0a0a"/>
<circle cx="294.1" cy="664.1" r="3.45" fill="#0a0a0a"/>
<circle cx="328.4" cy="672.2" r="3.45" fill="#0a0a0a"/>
<circle cx="338.5" cy="687.7" r="3.45" fill="#0a0a0a"/>
<circle cx="250.2" cy="692.6" r="3.45" fill="#0a0a0a"/>
<circle cx="261.0" cy="692.6" r="3.45" fill="#0a0a0a"/>
<circle cx="248.3" cy="700.7" r="3.45" fill="#0a0a0a"/>
<circle cx="255.7" cy="703.4" r="3.45" fill="#0a0a0a"/>
<circle cx="262.7" cy="705.8" r="3.45" fill="#0a0a0a"/>
<circle cx="269.8" cy="708.6" r="3.45" fill="#0a0a0a"/>
<circle cx="284.0" cy="711.4" r="3.45" fill="#0a0a0a"/>
<circle cx="265.5" cy="718.2" r="3.45" fill="#0a0a0a"/>
<circle cx="276.6" cy="719.4" r="3.45" fill="#0a0a0a"/>
<circle cx="294.1" cy="698.2" r="3.45" fill="#0a0a0a"/>
<circle cx="305.5" cy="695.5" r="3.45" fill="#0a0a0a"/>
<circle cx="327.7" cy="692.8" r="3.45" fill="#0a0a0a"/>
<circle cx="333.1" cy="700.9" r="3.45" fill="#0a0a0a"/>
<circle cx="319.0" cy="705.8" r="3.45" fill="#0a0a0a"/>
<circle cx="312.0" cy="708.5" r="3.45" fill="#0a0a0a"/>
<circle cx="304.8" cy="711.2" r="3.45" fill="#0a0a0a"/>
<circle cx="311.6" cy="721.3" r="3.45" fill="#0a0a0a"/>
<circle cx="323.0" cy="721.3" r="3.45" fill="#0a0a0a"/>
<circle cx="250.4" cy="726.2" r="3.45" fill="#0a0a0a"/>
<circle cx="268.0" cy="731.5" r="3.45" fill="#0a0a0a"/>
<circle cx="291.4" cy="737.1" r="3.45" fill="#0a0a0a"/>
<circle cx="299.8" cy="724.1" r="3.45" fill="#0a0a0a"/>
<circle cx="338.1" cy="726.4" r="3.45" fill="#0a0a0a"/>
<circle cx="311.6" cy="734.5" r="3.45" fill="#0a0a0a"/>
<circle cx="320.3" cy="731.8" r="3.45" fill="#0a0a0a"/>
<circle cx="329.0" cy="731.8" r="3.45" fill="#0a0a0a"/>
<circle cx="425.7" cy="656.5" r="3.45" fill="#0a0a0a"/>
<circle cx="437.6" cy="705.5" r="3.45" fill="#0a0a0a"/>
<circle cx="449.2" cy="705.5" r="3.45" fill="#0a0a0a"/>
<circle cx="455.2" cy="716.1" r="3.45" fill="#0a0a0a"/>
<circle cx="443.3" cy="721.3" r="3.45" fill="#0a0a0a"/>
<circle cx="432.3" cy="734.5" r="3.45" fill="#0a0a0a"/>
<circle cx="443.3" cy="736.6" r="3.45" fill="#0a0a0a"/>
<circle cx="465.7" cy="734.5" r="3.45" fill="#0a0a0a"/>
<circle cx="487.7" cy="728.8" r="3.45" fill="#0a0a0a"/>
<line x1="83.2" y1="663.8" x2="206.1" y2="663.8" stroke="#c0504d" stroke-width="2.7" stroke-dasharray="7.7 5.1"/>
<line x1="95.8" y1="671.1" x2="194.8" y2="671.1" stroke="#000" stroke-width="3"/>
<line x1="232.5" y1="652.6" x2="355.4" y2="652.6" stroke="#4f81bd" stroke-width="2.7" stroke-dasharray="7.7 5.1"/>
<line x1="244.4" y1="667.8" x2="343.8" y2="667.8" stroke="#000" stroke-width="3"/>
<line x1="381.2" y1="660.2" x2="504.1" y2="660.2" stroke="#8064a2" stroke-width="2.7" stroke-dasharray="7.7 5.1"/>
<line x1="393.6" y1="675.4" x2="493.4" y2="675.4" stroke="#000" stroke-width="3"/>
</svg></body></html>
